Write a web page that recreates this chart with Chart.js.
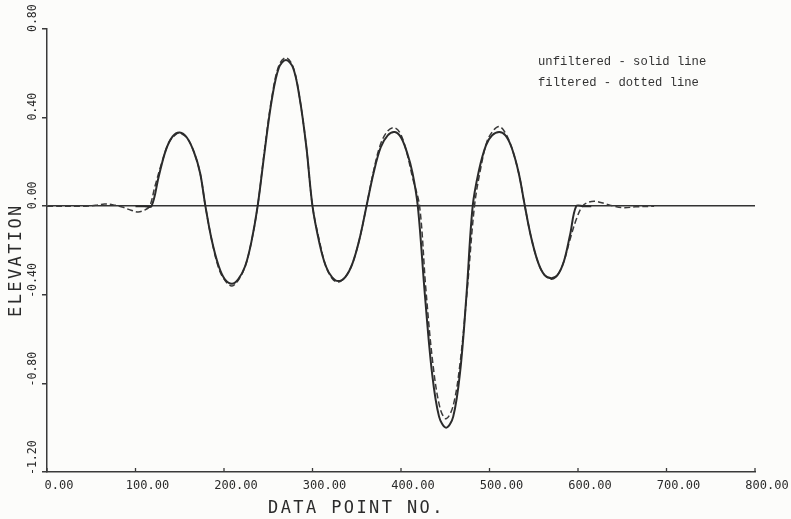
<!DOCTYPE html>
<html>
<head>
<meta charset="utf-8">
<script src="https://cdn.jsdelivr.net/npm/chart.js@4.4.1/dist/chart.umd.min.js"></script>
<style>
  html, body { margin: 0; padding: 0; background: #fcfcfa; }
  #wrap { width: 791px; height: 519px; }
</style>
</head>
<body>
<div id="wrap"><canvas id="c" width="791" height="519"></canvas></div>
<script>
// Axis ticks and their printed labels
const xTickValues = [0, 100, 200, 300, 400, 500, 600, 700, 800];
const xTickLabels = ['0.00', '100.00', '200.00', '300.00', '400.00', '500.00', '600.00', '700.00', '800.00'];
const yTickValues = [-1.2, -0.8, -0.4, 0, 0.4, 0.8];
const yTickLabels = ['-1.20', '-0.80', '-0.40', '0.00', '0.40', '0.80'];

// Unfiltered profile (solid line): data point no. / elevation
const unfilteredX = [100, 110, 118,
  126, 134, 142, 150, 158, 166, 173, 179,
  186, 194, 201, 209, 216, 224, 231, 238,
  246, 254, 262, 270, 278, 285, 293, 300,
  308, 315, 322, 329, 337, 345, 353, 361,
  369, 377, 385, 393, 400, 407, 413, 419,
  427, 435, 443, 451, 459, 467, 474, 481,
  488, 496, 503, 511, 518, 525, 533, 540,
  547, 555, 562, 570, 577, 584, 591, 598,
  606, 615];
const unfilteredY = [0, 0, 0,
  0.13, 0.25, 0.315, 0.333, 0.31, 0.245, 0.15, 0,
  -0.15, -0.27, -0.33, -0.35, -0.33, -0.27, -0.16, 0,
  0.25, 0.48, 0.625, 0.66, 0.625, 0.5, 0.27, 0,
  -0.17, -0.27, -0.32, -0.338, -0.32, -0.26, -0.15, 0,
  0.15, 0.265, 0.32, 0.335, 0.31, 0.24, 0.15, 0,
  -0.4, -0.75, -0.95, -1.0, -0.95, -0.74, -0.4, 0,
  0.16, 0.275, 0.32, 0.335, 0.32, 0.265, 0.15, 0,
  -0.14, -0.255, -0.31, -0.325, -0.31, -0.25, -0.13, 0,
  0, 0];

// Filtered profile (dashed line)
const filteredX = [0, 40, 55, 65, 75, 85, 95, 103, 110, 116,
  122, 130, 138, 146, 150, 158, 166, 173, 179,
  186, 194, 202, 209, 216, 224, 231, 238,
  246, 254, 262, 270, 278, 285, 293, 300,
  308, 315, 322, 329, 337, 345, 353, 361,
  368, 376, 384, 392, 399, 406, 413, 421,
  428, 436, 444, 451, 459, 467, 475, 483,
  490, 497, 504, 511, 518, 525, 533, 540,
  547, 555, 562, 570, 577, 584, 591, 598,
  605, 612, 620, 630, 641, 652, 665, 686];
const filteredY = [0, 0, 0.004, 0.01, 0.006, -0.004, -0.018, -0.026, -0.018, 0,
  0.09, 0.2, 0.29, 0.325, 0.33, 0.31, 0.245, 0.15, 0,
  -0.15, -0.28, -0.34, -0.36, -0.335, -0.27, -0.16, 0,
  0.26, 0.49, 0.635, 0.67, 0.63, 0.5, 0.27, 0,
  -0.16, -0.27, -0.325, -0.343, -0.32, -0.26, -0.15, 0,
  0.14, 0.27, 0.335, 0.355, 0.33, 0.25, 0.13, 0,
  -0.37, -0.71, -0.91, -0.96, -0.9, -0.7, -0.37, 0,
  0.17, 0.29, 0.34, 0.36, 0.33, 0.265, 0.15, 0,
  -0.14, -0.255, -0.31, -0.33, -0.31, -0.25, -0.15, -0.06,
  0, 0.018, 0.022, 0.012, 0, -0.007, -0.003, 0];

const axisTitleX = 'DATA POINT NO.';
const axisTitleY = 'ELEVATION';
const notes = ['unfiltered - solid line', 'filtered - dotted line'];

const ink = '#2b2b2b';
const pair = (xs, ys) => xs.map((x, i) => ({ x: x, y: ys[i] }));

// Plotter-style lettering: tick labels, axis titles and the notes
const plotterText = {
  id: 'plotterText',
  afterDraw(chart) {
    const ctx = chart.ctx;
    const xs = chart.scales.x, ys = chart.scales.y;
    const area = chart.chartArea;
    ctx.save();
    ctx.fillStyle = ink;
    ctx.strokeStyle = '#3a3a3a';
    ctx.lineWidth = 1.3;

    // short inward tick marks on the bottom axis
    xTickValues.forEach(v => {
      const px = xs.getPixelForValue(v);
      ctx.beginPath();
      ctx.moveTo(px, area.bottom);
      ctx.lineTo(px, area.bottom - 4);
      ctx.stroke();
    });

    // x tick labels
    ctx.font = '12px "DejaVu Sans Mono"';
    ctx.textAlign = 'center';
    ctx.textBaseline = 'middle';
    xTickValues.forEach((v, i) => {
      ctx.fillText(xTickLabels[i], xs.getPixelForValue(v) + 12, area.bottom + 14);
    });

    // y tick labels, written upward
    ctx.font = '11.5px "DejaVu Sans Mono"';
    yTickValues.forEach((v, i) => {
      const py = ys.getPixelForValue(v);
      ctx.save();
      ctx.translate(area.left - 14, py + 3);
      ctx.rotate(-Math.PI / 2);
      ctx.textAlign = 'left';
      ctx.textBaseline = 'middle';
      ctx.fillText(yTickLabels[i], 0, 0);
      ctx.restore();
    });

    // axis titles
    ctx.font = '17px "DejaVu Sans Mono"';
    ctx.letterSpacing = '2.4px';
    ctx.textAlign = 'left';
    ctx.textBaseline = 'alphabetic';
    ctx.fillText(axisTitleX, 268, 513);

    ctx.save();
    ctx.translate(21, 317);
    ctx.rotate(-Math.PI / 2);
    ctx.fillText(axisTitleY, 0, 0);
    ctx.restore();

    // notes in the upper right
    ctx.letterSpacing = '0px';
    ctx.font = '12.2px "Liberation Mono"';
    ctx.fillStyle = '#333';
    ctx.textBaseline = 'middle';
    ctx.fillText(notes[0], 538, 62);
    ctx.fillText(notes[1], 538, 83);
    ctx.restore();
  }
};

new Chart(document.getElementById('c'), {
  type: 'line',
  data: {
    datasets: [
      {
        label: 'unfiltered',
        data: pair(unfilteredX, unfilteredY),
        borderColor: ink,
        borderWidth: 2,
        pointRadius: 0,
        fill: false,
        tension: 0.35
      },
      {
        label: 'filtered',
        data: pair(filteredX, filteredY),
        borderColor: '#3a3a3a',
        borderWidth: 1.5,
        borderDash: [6, 3],
        pointRadius: 0,
        fill: false,
        tension: 0.35
      }
    ]
  },
  options: {
    responsive: false,
    animation: false,
    events: [],
    layout: { padding: { left: 0, top: 29, right: 36, bottom: 0 } },
    plugins: {
      legend: { display: false },
      tooltip: { enabled: false },
      title: { display: false }
    },
    scales: {
      x: {
        type: 'linear',
        min: 0,
        max: 800,
        afterBuildTicks: s => { s.ticks = xTickValues.map(v => ({ value: v })); },
        afterFit: s => { s.height = 47; },
        ticks: { display: false },
        grid: { display: true, drawOnChartArea: false, drawTicks: false },
        border: { display: true, color: '#3a3a3a', width: 1.5 }
      },
      y: {
        type: 'linear',
        min: -1.2,
        max: 0.8,
        afterBuildTicks: s => { s.ticks = yTickValues.map(v => ({ value: v })); },
        afterFit: s => { s.width = 47; },
        ticks: { display: false },
        grid: {
          display: true,
          drawOnChartArea: true,
          drawTicks: true,
          tickLength: 5,
          tickColor: '#3a3a3a',
          lineWidth: 1.5,
          color: c => (c.tick && c.tick.value === 0 ? '#333' : 'rgba(0,0,0,0)')
        },
        border: { display: true, color: '#3a3a3a', width: 1.5 }
      }
    }
  },
  plugins: [plotterText]
});
</script>
</body>
</html>
